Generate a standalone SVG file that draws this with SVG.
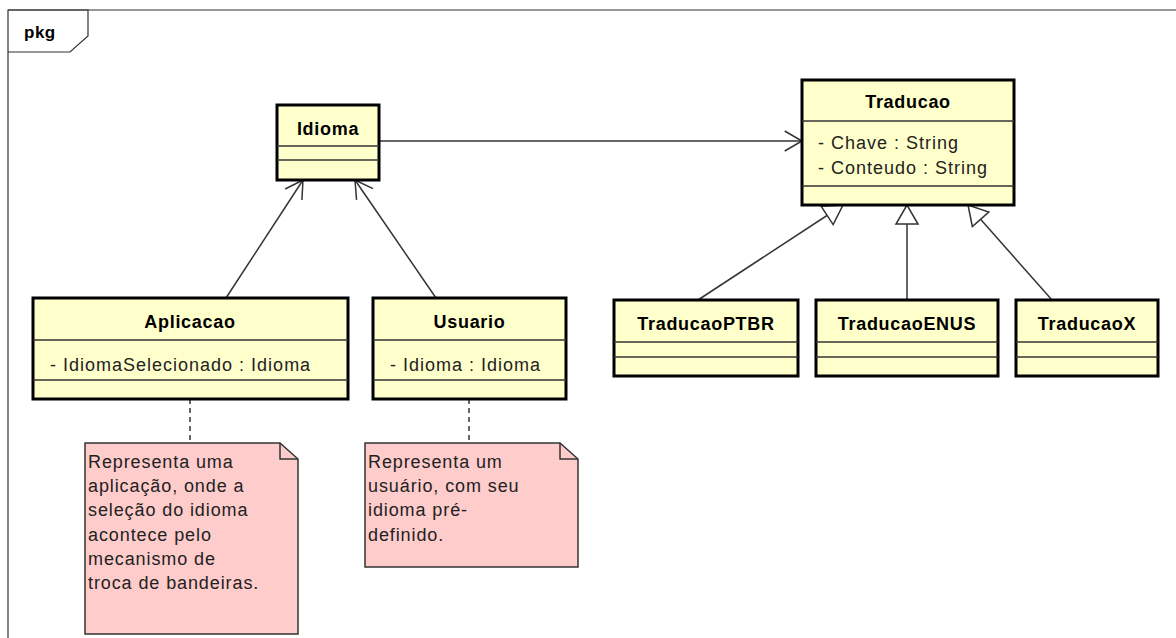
<svg xmlns="http://www.w3.org/2000/svg" width="1176" height="638" viewBox="0 0 1176 638">
  <style>
    .frame { fill: none; stroke: #333; stroke-width: 1.2; }
    .box { fill: #FFFFCC; stroke: #000; stroke-width: 3; }
    .sep { stroke: #333; stroke-width: 1.5; }
    .title { font-family: "Liberation Sans", Arial, sans-serif; font-size: 18px; font-weight: bold; letter-spacing: 0.7px; text-anchor: middle; fill: #000; }
    .attr { font-family: "Liberation Sans", Arial, sans-serif; font-size: 18px; letter-spacing: 1px; fill: #222; }
    .note { fill: #FFCCCC; stroke: #333; stroke-width: 1.5; }
    .fold { fill: none; stroke: #333; stroke-width: 1.5; }
    .ntext { font-family: "Liberation Sans", Arial, sans-serif; font-size: 18px; letter-spacing: 0.9px; fill: #222; }
    .edge { fill: none; stroke: #333; stroke-width: 1.5; }
    .dash { fill: none; stroke: #333; stroke-width: 1.5; stroke-dasharray: 5 4; }
  </style>
  <defs>
    <marker id="open" markerUnits="userSpaceOnUse" viewBox="-22 -13 24 26" markerWidth="24" markerHeight="26" refX="0" refY="0" orient="auto">
      <path d="M-17.3,-10 L0,0 L-17.3,10" fill="none" stroke="#333" stroke-width="1.5"/>
    </marker>
    <marker id="tri" markerUnits="userSpaceOnUse" viewBox="-22 -14 24 28" markerWidth="24" markerHeight="28" refX="0" refY="0" orient="auto">
      <path d="M0,0 L-19,-11 L-19,11 Z" fill="#fff" stroke="#333" stroke-width="1.5"/>
    </marker>
  </defs>

  <rect width="1176" height="638" fill="#fff"/>

  <!-- package frame -->
  <g id="pkg">
    <path class="frame" d="M8,638 V10 H1176"/>
    <path class="frame" d="M8,10 H88 V36 L70,52 H8"/>
    <text x="24" y="38" font-family="Liberation Sans, Arial, sans-serif" font-size="17" font-weight="bold" letter-spacing="0.5">pkg</text>
  </g>

  <!-- connectors -->
  <g id="connectors">
    <path class="edge" d="M379,141 H802" marker-end="url(#open)"/>
    <path class="edge" d="M226,298 L303,180" marker-end="url(#open)"/>
    <path class="edge" d="M436,298 L355,180" marker-end="url(#open)"/>
    <path class="edge" d="M698,300 L843,205" marker-end="url(#tri)"/>
    <path class="edge" d="M907,300 V205" marker-end="url(#tri)"/>
    <path class="edge" d="M1052,300 L968,205" marker-end="url(#tri)"/>
    <path class="dash" d="M190,399 V443"/>
    <path class="dash" d="M469,399 V443"/>
  </g>

  <g id="Idioma">
    <rect class="box" x="277" y="105" width="102" height="75"/>
    <line class="sep" x1="277" y1="146" x2="379" y2="146"/>
    <line class="sep" x1="277" y1="160" x2="379" y2="160"/>
    <text class="title" x="328" y="135">Idioma</text>
  </g>

  <g id="Traducao">
    <rect class="box" x="802" y="80" width="212" height="125"/>
    <line class="sep" x1="802" y1="121" x2="1014" y2="121"/>
    <line class="sep" x1="802" y1="186" x2="1014" y2="186"/>
    <text class="title" x="908" y="108">Traducao</text>
    <text class="attr" x="818" y="149">- Chave : String</text>
    <text class="attr" x="818" y="174">- Conteudo : String</text>
  </g>

  <g id="Aplicacao">
    <rect class="box" x="33" y="298" width="315" height="101"/>
    <line class="sep" x1="33" y1="340" x2="348" y2="340"/>
    <line class="sep" x1="33" y1="380" x2="348" y2="380"/>
    <text class="title" x="190" y="328">Aplicacao</text>
    <text class="attr" x="50" y="371">- IdiomaSelecionado : Idioma</text>
  </g>

  <g id="Usuario">
    <rect class="box" x="373" y="298" width="193" height="101"/>
    <line class="sep" x1="373" y1="340" x2="566" y2="340"/>
    <line class="sep" x1="373" y1="380" x2="566" y2="380"/>
    <text class="title" x="469.5" y="328">Usuario</text>
    <text class="attr" x="390" y="371">- Idioma : Idioma</text>
  </g>

  <g id="TraducaoPTBR">
    <rect class="box" x="614" y="300" width="184" height="76"/>
    <line class="sep" x1="614" y1="342" x2="798" y2="342"/>
    <line class="sep" x1="614" y1="357" x2="798" y2="357"/>
    <text class="title" x="706" y="330">TraducaoPTBR</text>
  </g>

  <g id="TraducaoENUS">
    <rect class="box" x="816" y="300" width="182" height="76"/>
    <line class="sep" x1="816" y1="342" x2="998" y2="342"/>
    <line class="sep" x1="816" y1="357" x2="998" y2="357"/>
    <text class="title" x="907" y="330">TraducaoENUS</text>
  </g>

  <g id="TraducaoX">
    <rect class="box" x="1016" y="300" width="142" height="76"/>
    <line class="sep" x1="1016" y1="342" x2="1158" y2="342"/>
    <line class="sep" x1="1016" y1="357" x2="1158" y2="357"/>
    <text class="title" x="1087" y="330">TraducaoX</text>
  </g>

  <g id="NotaAplicacao">
    <path class="note" d="M85,443 H280 L298,459 V634 H85 Z"/>
    <path class="fold" d="M280,443 V459 H298"/>
    <text class="ntext" x="88" y="468">Representa uma</text>
    <text class="ntext" x="88" y="492">aplicação, onde a</text>
    <text class="ntext" x="88" y="516">seleção do idioma</text>
    <text class="ntext" x="88" y="541">acontece pelo</text>
    <text class="ntext" x="88" y="565">mecanismo de</text>
    <text class="ntext" x="88" y="589">troca de bandeiras.</text>
  </g>

  <g id="NotaUsuario">
    <path class="note" d="M365,443 H560 L578,459 V567 H365 Z"/>
    <path class="fold" d="M560,443 V459 H578"/>
    <text class="ntext" x="368" y="468">Representa um</text>
    <text class="ntext" x="368" y="492">usuário, com seu</text>
    <text class="ntext" x="368" y="516">idioma pré-</text>
    <text class="ntext" x="368" y="541">definido.</text>
  </g>
</svg>
